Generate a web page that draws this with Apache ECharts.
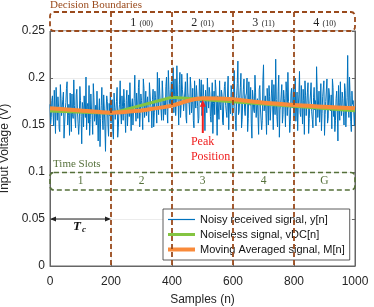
<!DOCTYPE html>
<html><head><meta charset="utf-8">
<script src="https://cdn.jsdelivr.net/npm/echarts@6/dist/echarts.min.js"></script>
<style>html,body{margin:0;padding:0;background:#fff}#c{width:374px;height:307px}</style>
</head><body><div id="c"></div>
<script>
// ---- data ----
// noisy samples, read as two interleaved lists: noisyA at n = 0,4,8,...  noisyB at n = 2,6,10,...
const noisyA = [
0.172,0.158,0.181,0.149,0.166,0.190,0.155,0.170,0.143,0.178,
0.162,0.185,0.151,0.174,0.196,0.160,0.139,0.168,0.183,0.157,
0.171,0.147,0.188,0.163,0.152,0.176,0.130,0.169,0.181,0.158,
0.145,0.173,0.192,0.156,0.167,0.140,0.179,0.161,0.150,0.186,
0.164,0.127,0.171,0.155,0.182,0.148,0.166,0.175,0.138,0.160,
0.152,0.177,0.135,0.169,0.158,0.190,0.147,0.172,0.163,0.181,
0.155,0.174,0.142,0.187,0.166,0.159,0.193,0.170,0.150,0.178,
0.165,0.184,0.157,0.198,0.162,0.176,0.145,0.189,0.171,0.160,
0.180,0.153,0.194,0.168,0.177,0.148,0.186,0.172,0.206,0.161,
0.183,0.166,0.197,0.155,0.178,0.191,0.164,0.208,0.173,0.185,
0.169,0.211,0.182,0.160,0.213,0.175,0.193,0.158,0.204,0.180,
0.167,0.196,0.152,0.185,0.172,0.201,0.163,0.189,0.147,0.178,
0.192,0.170,0.157,0.186,0.198,0.165,0.181,0.144,0.175,0.200,
0.168,0.184,0.153,0.195,0.173,0.161,0.188,0.139,0.179,0.197,
0.166,0.182,0.150,0.191,0.171,0.158,0.202,0.176,0.162,0.185,
0.169,0.208,0.155,0.181,0.218,0.164,0.190,0.147,0.177,0.199,
0.160,0.184,0.143,0.196,0.171,0.152,0.187,0.166,0.203,0.158,
0.178,0.140,0.192,0.169,0.155,0.214,0.174,0.162,0.189,0.150,
0.180,0.167,0.198,0.145,0.175,0.220,0.159,0.186,0.137,0.172,
0.193,0.161,0.178,0.148,0.185,0.206,0.166,0.154,0.189,0.173,
0.158,0.200,0.168,0.144,0.182,0.163,0.192,0.151,0.176,0.197,
0.160,0.185,0.141,0.173,0.195,0.156,0.179,0.166,0.149,0.188,
0.171,0.153,0.194,0.162,0.180,0.139,0.175,0.199,0.157,0.183,
0.165,0.146,0.190,0.170,0.155,0.186,0.133,0.174,0.196,0.160,
0.178,0.150,0.187,0.167,0.224,0.158,0.181,0.143,0.172,0.164,
0.168
];
const noisyB = [
0.151,0.176,0.162,0.187,0.141,0.169,0.180,0.146,0.193,0.160,
0.177,0.136,0.166,0.189,0.150,0.172,0.184,0.143,0.161,0.198,
0.156,0.182,0.165,0.140,0.191,0.159,0.174,0.148,0.167,0.201,
0.170,0.152,0.139,0.183,0.160,0.194,0.154,0.171,0.186,0.133,
0.178,0.157,0.190,0.145,0.168,0.122,0.181,0.150,0.173,0.185,
0.168,0.143,0.184,0.156,0.175,0.137,0.165,0.197,0.151,0.170,
0.188,0.160,0.176,0.149,0.182,0.195,0.144,0.178,0.166,0.203,
0.154,0.172,0.190,0.148,0.183,0.167,0.199,0.158,0.186,0.174,
0.162,0.195,0.171,0.147,0.188,0.163,0.179,0.152,0.184,0.200,
0.170,0.155,0.183,0.176,0.161,0.201,0.152,0.188,0.169,0.196,
0.187,0.163,0.199,0.174,0.182,0.150,0.206,0.171,0.188,0.165,
0.184,0.158,0.205,0.176,0.161,0.190,0.172,0.155,0.197,0.168,
0.181,0.152,0.199,0.174,0.160,0.193,0.171,0.187,0.163,0.182,
0.190,0.159,0.176,0.141,0.186,0.198,0.167,0.181,0.156,0.172,
0.187,0.153,0.179,0.196,0.164,0.183,0.145,0.175,0.192,0.160,
0.186,0.170,0.144,0.194,0.161,0.179,0.205,0.156,0.188,0.166,
0.181,0.200,0.157,0.174,0.190,0.136,0.178,0.163,0.185,0.171,
0.159,0.188,0.167,0.145,0.197,0.165,0.181,0.140,0.176,0.192,
0.155,0.184,0.170,0.193,0.161,0.177,0.148,0.203,0.166,0.182,
0.152,0.187,0.171,0.196,0.160,0.175,0.142,0.183,0.168,0.190,
0.176,0.154,0.185,0.170,0.207,0.159,0.173,0.188,0.140,0.181,
0.171,0.195,0.157,0.183,0.164,0.147,0.190,0.176,0.212,0.158,
0.186,0.166,0.144,0.180,0.197,0.161,0.175,0.152,0.189,0.169,
0.182,0.199,0.159,0.143,0.178,0.166,0.192,0.155,0.171,0.185,
0.163,0.194,0.148,0.179,0.170,0.201,0.154,0.186,0.176,0.149
];
const noisyStep = 4;
const noiselessX = [0, 200, 400, 1000];
const noiselessY = [0.1649, 0.1624, 0.1795, 0.1652];
const movAvgX = [0, 100, 200, 300, 344, 400, 450, 500, 550, 600, 688, 800, 900, 1000];
const movAvgY = [0.1677, 0.1655, 0.1631, 0.1655, 0.1677, 0.1706, 0.1755, 0.1784, 0.1783, 0.1773, 0.1741, 0.1713, 0.1695, 0.1677];
const xTicks = [0, 200, 400, 600, 800, 1000];
const yTicks = [0, 0.05, 0.1, 0.15, 0.2, 0.25];
const boundaries = [200, 400, 600, 800];
const decisionLabels = [['1', '(00)'], ['2', '(01)'], ['3', '(11)'], ['4', '(10)']];
const slotLabels = ['1', '2', '3', '4', 'G'];
const seriesNames = ['Noisy received signal, y[n]', 'Noiseless signal, vDC[n]', 'Moving Averaged signal, M[n]'];

// annotation geometry (data coordinates)
const decTop = 0.2702, decBottom = 0.25;
const slotTop = 0.0995, slotBottom = 0.0808, slotTextY = 0.0905;
const tcY = 0.05, tcTextX = 98, tcTextY = 0.0415;
const peakX = 501, peakTail = 0.1415, peakTip = 0.1768, peakTextX = 462;

const BROWN = '#9a4a1c', OLIVE = '#55703a', RED = '#f02020';
const SERIF = '"Liberation Serif", "DejaVu Serif", serif';
const SANS = '"Liberation Sans", Arial, sans-serif';

const noisyData = [];
noisyA.forEach((v, i) => {
  noisyData.push([i * noisyStep, v]);
  if (i < noisyB.length) noisyData.push([i * noisyStep + noisyStep / 2, noisyB[i]]);
});

const chart = echarts.init(document.getElementById('c'), null, {renderer: 'canvas'});

function renderAnno(params, api) {
  const p = (x, y) => api.coord([x, y]);
  const ch = [];
  const dash = {stroke: BROWN, lineWidth: 1.8, lineDash: [5, 3], fill: null};
  const a = p(0, decTop), b = p(1000, decBottom);
  ch.push({type: 'rect', shape: {x: a[0], y: a[1], width: b[0] - a[0], height: b[1] - a[1], r: 4}, style: Object.assign({}, dash)});
  boundaries.forEach(x => {
    const t = p(x, decTop), bt = p(x, 0);
    ch.push({type: 'line', shape: {x1: t[0], y1: t[1], x2: bt[0], y2: bt[1]}, style: Object.assign({}, dash)});
  });
  decisionLabels.forEach((d, i) => {
    const c = p((boundaries[i] + (boundaries[i + 1] || 1000)) / 2, (decTop + decBottom) / 2);
    ch.push({type: 'text', x: c[0], y: c[1] + 1, style: {
      text: '{a|' + d[0] + '} {b|' + d[1] + '}', align: 'center', verticalAlign: 'middle', fill: '#222',
      rich: {a: {fontSize: 12, fontFamily: SERIF, fill: '#222'}, b: {fontSize: 8, fontFamily: SERIF, fill: '#222', padding: [2, 0, 0, 0]}}
    }});
  });
  const dt = p(0, decTop);
  ch.push({type: 'text', x: dt[0], y: dt[1] - 7, style: {text: 'Decision Boundaries', fill: BROWN, fontSize: 11, fontFamily: SERIF, align: 'left', verticalAlign: 'middle'}});

  const s1 = p(0, slotTop), s2 = p(1000, slotBottom);
  ch.push({type: 'rect', shape: {x: s1[0], y: s1[1], width: s2[0] - s1[0], height: s2[1] - s1[1], r: 4},
    style: {stroke: OLIVE, lineWidth: 1.6, lineDash: [5, 3], fill: null}});
  slotLabels.forEach((l, i) => {
    const c = p(100 + 200 * i, slotTextY);
    ch.push({type: 'text', x: c[0], y: c[1], style: {text: l, fill: OLIVE, fontSize: 11.5, fontFamily: SERIF, align: 'center', verticalAlign: 'middle'}});
  });
  ch.push({type: 'text', x: s1[0] + 3, y: s1[1] - 8, style: {text: 'Time Slots', fill: OLIVE, fontSize: 11, fontFamily: SERIF, align: 'left', verticalAlign: 'middle'}});

  const t0 = p(0, tcY), t1 = p(200, tcY);
  ch.push({type: 'line', shape: {x1: t0[0] + 2, y1: t0[1], x2: t1[0] - 2, y2: t1[1]}, style: {stroke: '#222', lineWidth: 1.2}});
  ch.push({type: 'polygon', shape: {points: [[t0[0], t0[1]], [t0[0] + 6, t0[1] - 2.5], [t0[0] + 6, t0[1] + 2.5]]}, style: {fill: '#222'}});
  ch.push({type: 'polygon', shape: {points: [[t1[0], t1[1]], [t1[0] - 6, t1[1] - 2.5], [t1[0] - 6, t1[1] + 2.5]]}, style: {fill: '#222'}});
  const tt = p(tcTextX, tcTextY);
  ch.push({type: 'text', x: tt[0] - 3, y: tt[1], style: {text: 'T', fill: '#111', fontSize: 13, fontWeight: 'bold', fontStyle: 'italic', fontFamily: SERIF, align: 'center', verticalAlign: 'middle'}});
  ch.push({type: 'text', x: tt[0] + 4, y: tt[1] + 3, style: {text: 'c', fill: '#111', fontSize: 9, fontWeight: 'bold', fontStyle: 'italic', fontFamily: SERIF, align: 'center', verticalAlign: 'middle'}});

  const pb = p(peakX, peakTail), pt = p(peakX, peakTip);
  ch.push({type: 'line', shape: {x1: pb[0], y1: pb[1], x2: pt[0], y2: pt[1] + 5}, style: {stroke: RED, lineWidth: 2}});
  ch.push({type: 'polygon', shape: {points: [[pt[0], pt[1]], [pt[0] - 3, pt[1] + 7], [pt[0] + 3, pt[1] + 7]]}, style: {fill: RED}});
  const ptx = p(peakTextX, peakTail);
  ch.push({type: 'text', x: ptx[0], y: pb[1] + 9, style: {text: 'Peak', fill: RED, fontSize: 12, fontFamily: SERIF, align: 'left', verticalAlign: 'middle'}});
  ch.push({type: 'text', x: ptx[0], y: pb[1] + 24, style: {text: 'Position', fill: RED, fontSize: 12, fontFamily: SERIF, align: 'left', verticalAlign: 'middle'}});

  return {type: 'group', children: ch};
}

const axisCommon = {
  axisLine: {show: true, lineStyle: {color: '#666', width: 1}},
  axisTick: {show: true, inside: true, length: 3, lineStyle: {color: '#666'}},
  axisLabel: {color: '#262626', fontSize: 12, fontFamily: SANS},
  nameTextStyle: {color: '#262626', fontSize: 12, fontFamily: SANS}
};

chart.setOption({
  animation: false,
  backgroundColor: '#fff',
  grid: {left: 50, right: 19, top: 31, bottom: 41, show: true, borderColor: '#666', borderWidth: 1,
         containLabel: false, outerBoundsMode: 'none'},
  xAxis: Object.assign({}, axisCommon, {
    type: 'value', min: xTicks[0], max: xTicks[xTicks.length - 1], interval: 200,
    name: 'Samples (n)', nameLocation: 'middle', nameGap: 28,
    splitLine: {show: true, lineStyle: {color: '#ececec'}},
    axisLabel: Object.assign({}, axisCommon.axisLabel, {margin: 10, formatter: v => String(v)})
  }),
  yAxis: [Object.assign({}, axisCommon, {
    type: 'value', min: yTicks[0], max: yTicks[yTicks.length - 1], interval: 0.05,
    name: 'Input Voltage (V)', nameLocation: 'middle', nameGap: 37,
    splitLine: {show: true, lineStyle: {color: '#ececec'}},
    axisLabel: Object.assign({}, axisCommon.axisLabel, {margin: 5})
  }), Object.assign({}, axisCommon, {
    type: 'value', min: yTicks[0], max: yTicks[yTicks.length - 1], interval: 0.05, position: 'right',
    axisLabel: {show: false}, splitLine: {show: false}
  })],
  legend: {
    orient: 'vertical', left: 163, top: 209, padding: [3, 5, 3, 3], itemGap: 0,
    itemWidth: 27, itemHeight: 15,
    itemStyle: {opacity: 0},
    backgroundColor: '#fff', borderColor: '#333', borderWidth: 0.8, borderRadius: 0,
    textStyle: {color: '#111', fontSize: 11, fontFamily: SANS, lineHeight: 15},
    data: [
      {name: seriesNames[0], lineStyle: {width: 1.2}},
      {name: seriesNames[1], lineStyle: {width: 3}},
      {name: seriesNames[2], lineStyle: {width: 4}}
    ]
  },
  series: [
    {name: seriesNames[0], type: 'line', showSymbol: false, symbol: 'none', z: 2,
     lineStyle: {color: '#0072BD', width: 1}, itemStyle: {color: '#0072BD'},
     data: noisyData},
    {name: seriesNames[1], type: 'line', showSymbol: false, symbol: 'none', z: 3,
     lineStyle: {color: '#84c441', width: 3}, itemStyle: {color: '#84c441'},
     data: noiselessX.map((x, i) => [x, noiselessY[i]])},
    {name: seriesNames[2], type: 'line', showSymbol: false, symbol: 'none', z: 4, smooth: 0.3,
     lineStyle: {color: '#f98a3a', width: 4}, itemStyle: {color: '#f98a3a'},
     data: movAvgX.map((x, i) => [x, movAvgY[i]])},
    {type: 'custom', renderItem: renderAnno, data: [[0, 0]], clip: false, z: 5, silent: true, tooltip: {show: false}}
  ]
});
</script>
</body></html>
